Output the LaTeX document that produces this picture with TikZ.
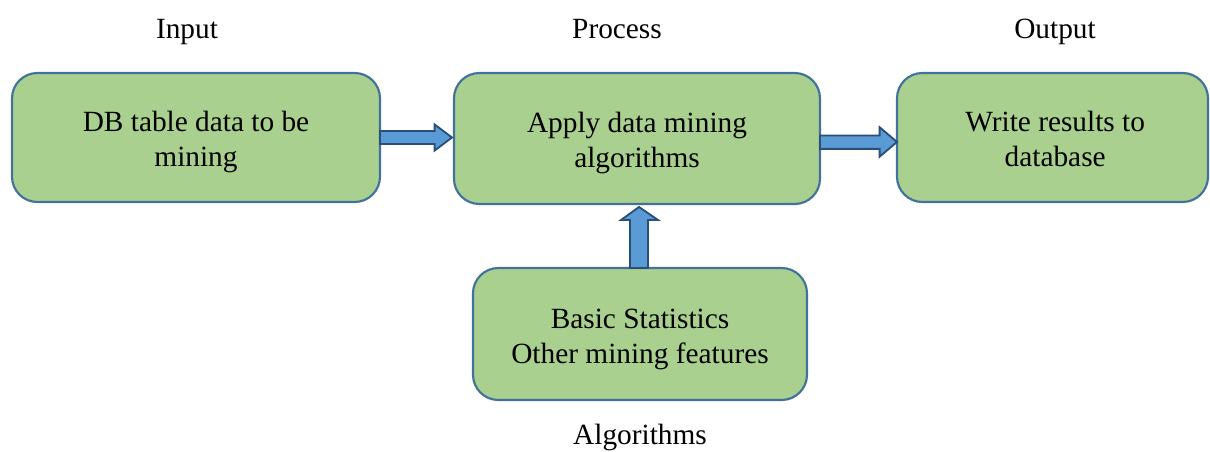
\documentclass[tikz,border=0pt]{standalone}
\usepackage{fontspec}
\setmainfont{Liberation Serif}
\usetikzlibrary{calc}
\definecolor{boxfill}{HTML}{A9D08E}
\definecolor{boxline}{HTML}{41719C}
\definecolor{arrfill}{HTML}{5B9BD5}
\definecolor{arrline}{HTML}{2A4F7A}
% two centred lines of text, lowered by #1 without changing the box size
\newcommand{\twolines}[3]{\raisebox{-#1}[\height][\depth]{\begin{tabular}{@{}c@{}}#2\\#3\end{tabular}}}
\tikzset{
  stage/.style={draw=boxline, fill=boxfill, line width=1.6pt, rounded corners=19pt,
    inner sep=0pt, outer sep=0pt, font=\fontsize{22}{26}\selectfont},
  title/.style={inner sep=0pt, font=\fontsize{22}{26}\selectfont},
  barrow/.style={draw=arrline, fill=arrfill, line width=1.4pt, line join=miter}
}
\begin{document}
\begin{tikzpicture}[x=0.75pt, y=-0.75pt]
\useasboundingbox (0,0) rectangle (1210,451);
% stages
\node[stage, minimum width=276pt, minimum height=96.75pt] (inp) at (196,137.5)
  {\twolines{3.5pt}{DB table data to be}{mining}};
\node[stage, minimum width=274.5pt, minimum height=98.25pt] (proc) at (637,138.5)
  {\twolines{3.5pt}{Apply data mining}{algorithms}};
\node[stage, minimum width=233.25pt, minimum height=96.75pt] (out) at (1052.5,137.5)
  {\twolines{3.5pt}{\hspace*{4pt}Write results to}{\hspace*{4pt}database}};
\node[stage, minimum width=250.5pt, minimum height=99pt] (alg) at (640,334)
  {\twolines{4pt}{Basic Statistics}{Other mining features}};
% titles
\node[title] (tin) at (187,32) {Input};
\node[title] (tproc) at (617,29) {Process};
\node[title] (tout) at (1055,32) {Output};
\node[title] (talg) at (640,437) {Algorithms};
% block arrows
\draw[barrow] let \p1=(inp.east), \p2=(proc.west) in
  (\x1,\y1+4.9pt) -- (\x2-14.5pt,\y1+4.9pt) -- (\x2-14.5pt,\y1+9.75pt) -- (\x2-1.5pt,\y1)
  -- (\x2-14.5pt,\y1-9.75pt) -- (\x2-14.5pt,\y1-4.9pt) -- (\x1,\y1-4.9pt) -- cycle;
\draw[barrow] let \p1=(proc.east), \p2=(out.west) in
  (\x1,\y1+2.3pt) -- (\x2-13pt,\y1+2.3pt) -- (\x2-13pt,\y1+8.4pt) -- (\x2,\y1-2.6pt)
  -- (\x2-13pt,\y1-13.6pt) -- (\x2-13pt,\y1-7.8pt) -- (\x1,\y1-7.8pt) -- cycle;
\draw[barrow] let \p1=(alg.north), \p2=(proc.south) in
  (\x1-7.5pt,\y1) -- (\x1-7.5pt,\y2-12pt) -- (\x1-14.25pt,\y2-12pt) -- (\x1-0.75pt,\y2-2.25pt)
  -- (\x1+13.5pt,\y2-12pt) -- (\x1+6pt,\y2-12pt) -- (\x1+6pt,\y1) -- cycle;
\end{tikzpicture}
\end{document}
